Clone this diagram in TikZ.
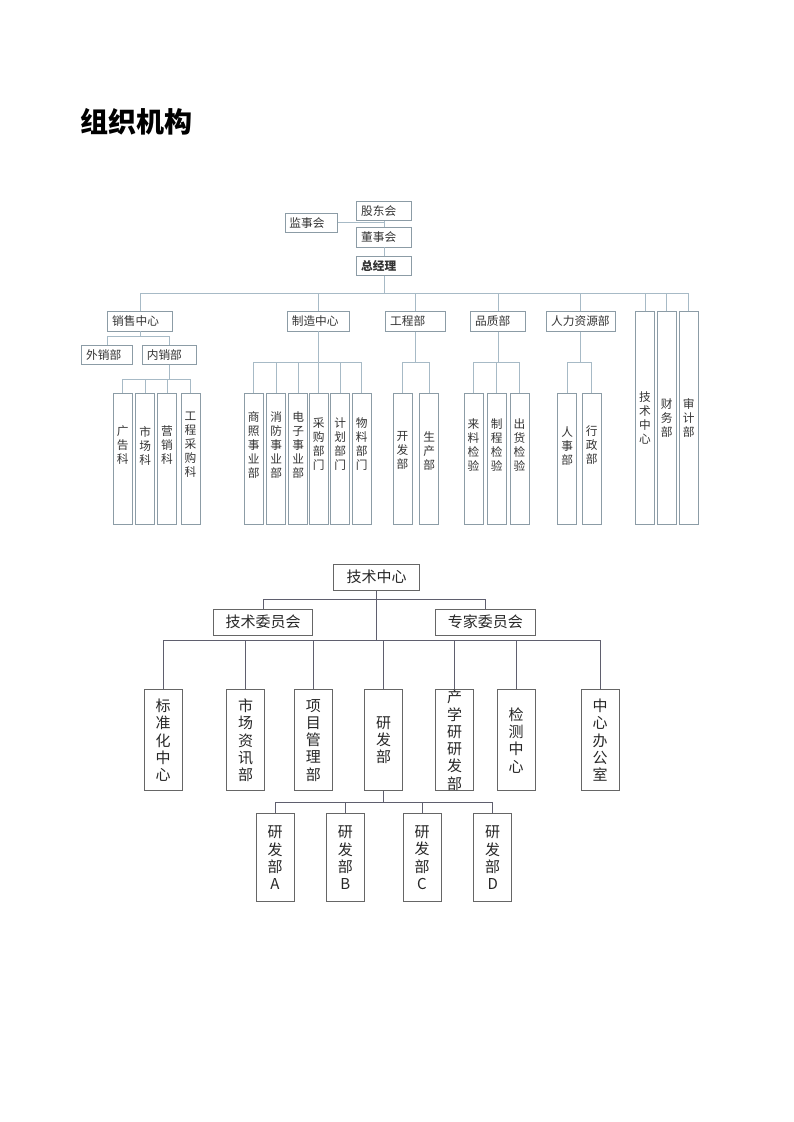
\documentclass[tikz,border=0pt]{standalone}
\usepackage{fontspec}
\setmainfont{Noto Sans CJK SC}
\definecolor{toplin}{HTML}{A7BAC6}
\definecolor{topbox}{HTML}{8C9CA6}
\definecolor{botlin}{HTML}{5F5F6E}
\definecolor{botbox}{HTML}{666666}

\begin{document}
\begin{tikzpicture}[x=1pt,y=-1pt,
  tf/.style={font=\fontsize{11.7}{14}\selectfont, text=black!80},
  hb/.style={tf, draw=topbox, line width=0.8pt, fill=white, inner xsep=4.5pt,
    inner ysep=0pt, minimum height=19.5pt, text width=#1, align=left},
  vb/.style={tf, draw=topbox, line width=0.8pt, inner sep=0pt,
    minimum width=19pt, minimum height=#1, align=center},
  lo/.style={vb=130.7pt},
  vt/.style={tf, inner sep=0pt, align=center},
  tl/.style={draw=toplin, line width=0.8pt},
  bf/.style={font=\fontsize{15}{17.3}\selectfont, text=black!85},
  bb/.style={bf, draw=botbox, line width=1pt, inner sep=0pt,
    minimum width=#1, minimum height=26pt},
  bv/.style={bf, draw=botbox, line width=1pt, inner sep=0pt,
    minimum width=38pt, minimum height=#1, align=center},
  bl/.style={draw=botlin, line width=0.9pt}]
  \useasboundingbox (0,0) rectangle (793,1122);

  \node[anchor=west, inner sep=0pt, font=\fontsize{28}{30}\selectfont\bfseries]
    (title) at (80,121.5) {组织机构};

  % top chart
  \node[hb=43.7pt] (jsh) at (311.3,222.8) {监事会};
  \node[hb=46pt] (gdh) at (384.2,210.8) {股东会};
  \node[hb=46pt] (dsh) at (384.2,237.3) {董事会};
  \node[hb=46pt, font=\fontsize{11.7}{14}\selectfont\bfseries] (zjl) at (384.2,265.8) {总经理};
  \coordinate (bus1) at (384.2,293.3);

  \node[hb=55.6pt] (xs) at (140,321.2) {销售中心};
  \node[hb=53pt] (zz) at (318.3,321.2) {制造中心};
  \node[hb=50.3pt] (gc) at (415.3,321.5) {工程部};
  \node[hb=46pt] (pz) at (498.2,321.5) {品质部};
  \node[hb=59.3pt] (rl) at (580.8,321.5) {人力资源部};
  \node[vb=212.3pt] (js) at (645,417.8) {技\\术\\中\\心};
  \node[vb=212.3pt] (cw) at (666.7,417.8) {财\\务\\部};
  \node[vb=212.3pt] (sj) at (688.8,417.8) {审\\计\\部};

  \node[hb=41.6pt] (wx) at (107,355) {外销部};
  \node[hb=45.4pt] (nx) at (169.5,355) {内销部};

  \node[lo] (gg) at (122.8,458.7) {};   \node[vt] (ggt) at ([yshift=14pt]gg) {广\\告\\科};
  \node[lo] (scc) at (145.2,458.7) {};  \node[vt] (scct) at ([yshift=13pt]scc) {市\\场\\科};
  \node[lo] (yx) at (167,458.7) {};     \node[vt] (yxt) at ([yshift=14pt]yx) {营\\销\\科};
  \node[lo] (gccg) at (190.5,458.7) {}; \node[vt] (gccgt) at ([yshift=14pt]gccg) {工\\程\\采\\购\\科};

  \node[lo] (sz) at (253.8,458.7) {};   \node[vt] (szt) at ([yshift=14pt]sz) {商\\照\\事\\业\\部};
  \node[lo] (xf) at (276.2,458.7) {};   \node[vt] (xft) at ([yshift=14pt]xf) {消\\防\\事\\业\\部};
  \node[lo] (dz) at (298.3,458.7) {};   \node[vt] (dzt) at ([yshift=14pt]dz) {电\\子\\事\\业\\部};
  \node[lo] (cg) at (318.8,458.7) {};   \node[vt] (cgt) at ([yshift=15pt]cg) {采\\购\\部\\门};
  \node[lo] (jh) at (340.2,458.7) {};   \node[vt] (jht) at ([yshift=15pt]jh) {计\\划\\部\\门};
  \node[lo] (wl) at (361.7,458.7) {};   \node[vt] (wlt) at ([yshift=15pt]wl) {物\\料\\部\\门};

  \node[lo] (kf) at (402.5,458.7) {};   \node[vt] (kft) at ([yshift=8pt]kf) {开\\发\\部};
  \node[lo] (scb) at (429.3,458.7) {};  \node[vt] (scbt) at ([yshift=8pt]scb) {生\\产\\部};

  \node[lo] (ll) at (473.5,458.7) {};   \node[vt] (llt) at ([yshift=14pt]ll) {来\\料\\检\\验};
  \node[lo] (zc) at (496.7,458.7) {};   \node[vt] (zct) at ([yshift=14pt]zc) {制\\程\\检\\验};
  \node[lo] (ch) at (519.5,458.7) {};   \node[vt] (cht) at ([yshift=14pt]ch) {出\\货\\检\\验};

  \node[lo] (rs) at (567.2,458.7) {};   \node[vt] (rst) at ([yshift=13pt]rs) {人\\事\\部};
  \node[lo] (xz) at (591.7,458.7) {};   \node[vt] (xzt) at ([yshift=14pt]xz) {行\\政\\部};

  \coordinate (xsj) at (140,336.7);
  \coordinate (nxj) at (169.5,379);
  \coordinate (zzj) at (318.3,362);
  \coordinate (gcj) at (415.3,362);
  \coordinate (pzj) at (498.2,362);
  \coordinate (rlj) at (580.8,362);

  \draw[tl] (gdh) -- (dsh);
  \draw[tl] (dsh) -- (zjl);
  \draw[tl] (jsh.east) -- (jsh.east -| gdh);
  \draw[tl] (zjl) -- (bus1);
  \foreach \n in {xs,zz,gc,pz,rl,js,cw,sj} \draw[tl] (\n.north) |- (bus1);
  \draw[tl] (xs) -- (xsj);
  \foreach \n in {wx,nx} \draw[tl] (\n.north) |- (xsj);
  \draw[tl] (nx) -- (nxj);
  \foreach \n in {gg,scc,yx,gccg} \draw[tl] (\n.north) |- (nxj);
  \draw[tl] (zz) -- (zzj);
  \foreach \n in {sz,xf,dz,cg,jh,wl} \draw[tl] (\n.north) |- (zzj);
  \draw[tl] (gc) -- (gcj);
  \foreach \n in {kf,scb} \draw[tl] (\n.north) |- (gcj);
  \draw[tl] (pz) -- (pzj);
  \foreach \n in {ll,zc,ch} \draw[tl] (\n.north) |- (pzj);
  \draw[tl] (rl) -- (rlj);
  \foreach \n in {rs,xz} \draw[tl] (\n.north) |- (rlj);

  % bottom chart
  \node[bb=86.6pt] (jszx) at (376.5,577.2) {技术中心};
  \node[bb=99.4pt] (jswy) at (263,622) {技术委员会};
  \node[bb=100pt] (zjwy) at (485.3,622) {专家委员会};
  \coordinate (wyj) at (376.5,599.3);
  \coordinate (tcj) at (376.5,640.3);

  \node[bv=100.7pt] (bzh) at (163.2,740.3) {标\\准\\化\\中\\心};
  \node[bv=100.7pt] (sczx) at (245.5,740.3) {市\\场\\资\\讯\\部};
  \node[bv=100.7pt] (xmgl) at (313.3,740.3) {项\\目\\管\\理\\部};
  \node[bv=100.7pt] (yfb) at (383.5,740.3) {研\\发\\部};
  \node[bv=100.7pt] (cxy) at (454.5,740.3) {产\\学\\研\\研\\发\\部};
  \node[bv=100.7pt] (jczx) at (516,740.3) {检\\测\\中\\心};
  \node[bv=100.7pt] (zxbg) at (600.2,740.3) {中\\心\\办\\公\\室};
  \coordinate (yfj) at (383.5,802.7);

  \node[bv=87.7pt] (yfa) at (275,857.8) {研\\发\\部\\A};
  \node[bv=87.7pt] (yfbb) at (345.3,857.8) {研\\发\\部\\B};
  \node[bv=87.7pt] (yfc) at (422,857.8) {研\\发\\部\\C};
  \node[bv=87.7pt] (yfd) at (492.7,857.8) {研\\发\\部\\D};

  \draw[bl] (jszx) -- (tcj);
  \draw[bl] (jswy.north) |- (wyj) -| (zjwy.north);
  \foreach \n in {bzh,sczx,xmgl,yfb,cxy,jczx,zxbg} \draw[bl] (\n.north) |- (tcj);
  \draw[bl] (yfb) -- (yfj);
  \foreach \n in {yfa,yfbb,yfc,yfd} \draw[bl] (\n.north) |- (yfj);
\end{tikzpicture}
\end{document}
